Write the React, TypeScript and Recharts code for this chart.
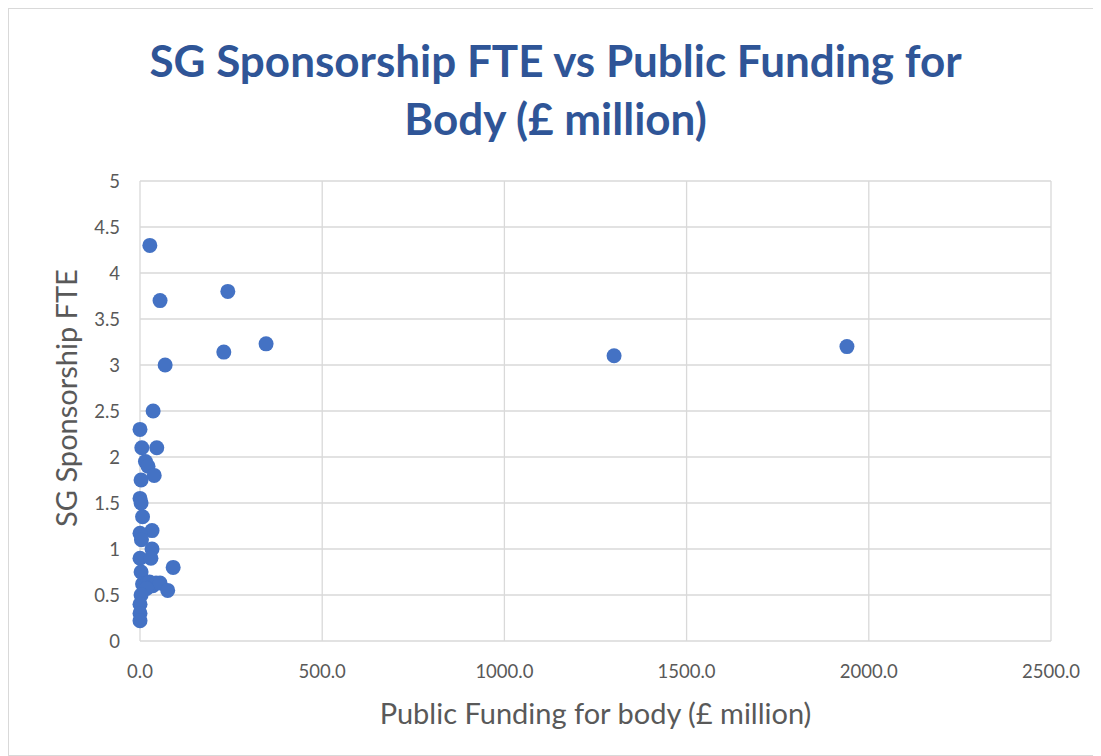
import React from "react";
import {
  ScatterChart, Scatter, XAxis, YAxis, CartesianGrid,
} from "recharts";

// Public funding (£ million) and SG sponsorship FTE
const FUNDING = [
  27, 55, 241, 230, 346, 1301, 1940, 69, 36,
  0, 5, 46, 15, 22, 39, 3, 0, 3, 7, 33, 0, 4, 33, 0, 30, 91, 3,
  7, 12, 20, 26, 35, 44, 55, 18, 76, 3, 0, 0, 0,
];
const FTE = [
  4.3, 3.7, 3.8, 3.14, 3.23, 3.1, 3.2, 3.0, 2.5,
  2.3, 2.1, 2.1, 1.95, 1.9, 1.8, 1.75, 1.55, 1.5, 1.35, 1.2, 1.17, 1.1, 1.0, 0.9, 0.9, 0.8, 0.75,
  0.62, 0.6, 0.63, 0.64, 0.6, 0.63, 0.63, 0.57, 0.55, 0.5, 0.4, 0.3, 0.22,
];
const X_TICKS = [0, 500, 1000, 1500, 2000, 2500];
const Y_TICKS = [0, 0.5, 1, 1.5, 2, 2.5, 3, 3.5, 4, 4.5, 5];

const TITLE = ["SG Sponsorship FTE vs Public Funding for", "Body (£ million)"];
const X_LABEL = "Public Funding for body (£ million)";
const Y_LABEL = "SG Sponsorship FTE";

const data = FUNDING.map((f, i) => ({ funding: f, fte: FTE[i] }));

const FONT = "Lato, 'Open Sans', sans-serif";
const tick = { fill: "#595959", fontSize: 18.5, fontFamily: FONT };

const Dot = (props: any) => (
  <circle cx={props.cx} cy={props.cy} r={7.5} fill="#4472C4" />
);

export default function App() {
  return (
    <div
      style={{
        position: "relative", width: 1093, height: 746,
        border: "1px solid #D9D9D9", background: "#fff", fontFamily: FONT,
      }}
    >
      <div
        style={{
          position: "absolute", left: 0, right: 0, top: 22, textAlign: "center",
          color: "#2F5597", fontWeight: 700, fontSize: 44, lineHeight: "58px",
        }}
      >
        {TITLE.map((t) => <div key={t}>{t}</div>)}
      </div>
      <ScatterChart
        width={1093} height={746}
        margin={{ top: 172, right: 51, bottom: 74, left: 71 }}
      >
        <CartesianGrid stroke="#D9D9D9" strokeWidth={1.3} />
        <XAxis
          type="number" dataKey="funding" domain={[0, 2500]} ticks={X_TICKS}
          tickFormatter={(v) => v.toFixed(1)} tick={tick}
          axisLine={false} tickLine={false} height={40} tickMargin={18}
        />
        <YAxis
          type="number" dataKey="fte" domain={[0, 5]} ticks={Y_TICKS}
          tick={tick} axisLine={false} tickLine={false} width={60} tickMargin={14}
        />
        <Scatter data={data} fill="#4472C4" shape={Dot} isAnimationActive={false} />
      </ScatterChart>
      <div
        style={{
          position: "absolute", left: 131, width: 911, top: 686, textAlign: "center",
          color: "#595959", fontSize: 29,
        }}
      >
        {X_LABEL}
      </div>
      <div
        style={{
          position: "absolute", left: 56, top: 389, width: 0, height: 0,
        }}
      >
        <div
          style={{
            position: "absolute", transform: "translate(-50%, -50%) rotate(-90deg)",
            whiteSpace: "nowrap", color: "#595959", fontSize: 29,
          }}
        >
          {Y_LABEL}
        </div>
      </div>
    </div>
  );
}
